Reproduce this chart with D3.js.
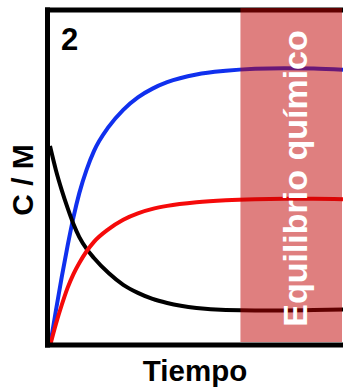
<!DOCTYPE html>
<html>
<head>
<meta charset="utf-8">
<script src="https://cdn.jsdelivr.net/npm/d3@7/dist/d3.min.js"></script>
<style>
  html, body { margin: 0; padding: 0; background: #fff; }
  svg { display: block; }
  text { font-family: "Liberation Sans", Arial, sans-serif; font-weight: bold; }
</style>
</head>
<body>
<svg id="chart" width="343" height="387"></svg>
<script>
// ---- data ----
const time   = [0, 0.2, 0.4, 0.6, 0.8, 1.0, 1.25, 1.5, 2, 2.5, 3, 3.5, 4, 5, 6, 7, 8, 9, 10];
const blueC  = [0, 0.105, 0.205, 0.298, 0.383, 0.455, 0.525, 0.580, 0.652, 0.703, 0.740, 0.766, 0.785, 0.808, 0.819, 0.825, 0.827, 0.826, 0.822];
const redC   = [0, 0.065, 0.122, 0.173, 0.214, 0.247, 0.282, 0.310, 0.348, 0.376, 0.395, 0.408, 0.417, 0.428, 0.434, 0.437, 0.438, 0.438, 0.437];
const blackC = [0.595, 0.524, 0.464, 0.411, 0.363, 0.324, 0.289, 0.262, 0.217, 0.182, 0.158, 0.140, 0.128, 0.113, 0.107, 0.106, 0.106, 0.107, 0.109];
const equilibriumStart = 6.5;   // time where the shaded band starts
const equilibriumEnd = 10;
const panelLabel = "2";
const xTitle = "Tiempo";
const yTitle = "C / M";
const bandLabel = "Equilibrio químico";

const svg = d3.select("#chart");
const x = d3.scaleLinear().domain([0, 10]).range([50, 343]);
const y = d3.scaleLinear().domain([0, 1]).range([346, 10]);

const line = d3.line().x(d => x(d[0])).y(d => y(d[1])).curve(d3.curveMonotoneX);

const series = [
  { vals: blueC,  color: "#1030ee" },
  { vals: blackC, color: "#000000" },
  { vals: redC,   color: "#f50a0a" }
];

svg.selectAll("path.series").data(series).join("path")
  .attr("class", "series")
  .attr("fill", "none")
  .attr("stroke", d => d.color)
  .attr("stroke-width", 4)
  .attr("d", d => line(time.map((t, i) => [t, d.vals[i]])));

// frame
svg.append("line").attr("x1", 47.5).attr("x2", 47.5).attr("y1", 7.5).attr("y2", 347.5)
  .attr("stroke", "#000").attr("stroke-width", 5);
svg.append("line").attr("x1", 45).attr("x2", 343).attr("y1", 10).attr("y2", 10)
  .attr("stroke", "#000").attr("stroke-width", 5);
svg.append("line").attr("x1", 45).attr("x2", 343).attr("y1", 345).attr("y2", 345)
  .attr("stroke", "#000").attr("stroke-width", 5);

// equilibrium band
const bx0 = x(equilibriumStart), bx1 = x(equilibriumEnd) - 1;
svg.append("rect")
  .attr("x", bx0).attr("y", 8)
  .attr("width", bx1 - bx0).attr("height", 334)
  .attr("fill", "#c00000").attr("fill-opacity", 0.5);

svg.append("text")
  .attr("transform", `translate(${(bx0 + bx1) / 2 + 16},178.5) rotate(-90)`)
  .attr("text-anchor", "middle")
  .attr("fill", "#fff")
  .attr("font-size", 34)
  .text(bandLabel);

// labels
svg.append("text").attr("x", 61).attr("y", 50).attr("font-size", 31).attr("fill", "#000").text(panelLabel);
svg.append("text").attr("x", 195).attr("y", 381).attr("text-anchor", "middle")
  .attr("font-size", 29.5).attr("fill", "#000").text(xTitle);
svg.append("text")
  .attr("transform", "translate(33,180) rotate(-90)")
  .attr("text-anchor", "middle").attr("font-size", 30).attr("fill", "#000")
  .text(yTitle);
</script>
</body>
</html>
